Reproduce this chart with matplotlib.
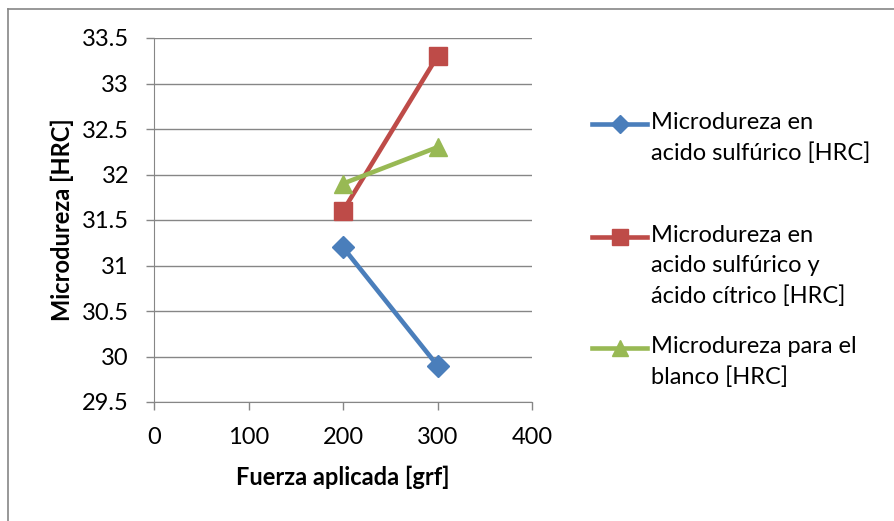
import matplotlib.pyplot as plt
from matplotlib.lines import Line2D

plt.rcParams['font.family'] = ['Lato', 'DejaVu Sans']

fuerza = [200, 300]
sulfurico = [31.2, 29.9]
sulfurico_citrico = [31.6, 33.3]
blanco = [31.9, 32.3]

labels = ['Microdureza en\nacido sulfúrico [HRC]',
          'Microdureza en\nacido sulfúrico y\nácido cítrico [HRC]',
          'Microdureza para el\nblanco [HRC]']
colors = ['#4A7EBB', '#BE4B48', '#98B954']
markers = ['D', 's', '^']
msizes = [11, 13, 13]

FS = 17
W, H = 894, 521
fig = plt.figure(figsize=(W / 100, H / 100), dpi=100)
ax = fig.add_axes([154 / W, 1 - 402 / H, (532 - 154) / W, (402 - 38) / H])

for y, c, m, ms in zip([sulfurico, sulfurico_citrico, blanco], colors, markers, msizes):
    ax.plot(fuerza, y, color=c, lw=3.3, marker=m, ms=ms, mec=c, mfc=c)

ax.set_xlim(0, 400)
ax.set_ylim(29.5, 33.5)
ax.set_xticks(range(0, 401, 100))
ax.set_yticks([29.5 + 0.5 * i for i in range(9)])
ax.set_yticklabels(['29.5', '30', '30.5', '31', '31.5', '32', '32.5', '33', '33.5'])
ax.yaxis.grid(True, color='#868686', lw=1)
ax.set_axisbelow(True)
for s in ['top', 'right']:
    ax.spines[s].set_visible(False)
for s in ['left', 'bottom']:
    ax.spines[s].set_color('#868686')
ax.tick_params(colors='#868686', labelcolor='black', labelsize=FS, length=6, width=1)
ax.tick_params(axis='y', pad=12)
ax.tick_params(axis='x', pad=12)

ax.set_xlabel('Fuerza aplicada [grf]', fontsize=FS, fontweight='bold', labelpad=13)
ax.set_ylabel('Microdureza [HRC]', fontsize=FS, fontweight='bold', labelpad=6)

# legend drawn by hand so entries sit where the spacing needs them
first_rows = [124, 237, 348]
for lab, c, m, ms, yy in zip(labels, colors, markers, msizes, first_rows):
    yf = 1 - yy / H
    fig.add_artist(Line2D([592 / W, 647 / W], [yf, yf], color=c, lw=3.3,
                          transform=fig.transFigure))
    fig.add_artist(Line2D([620 / W], [yf], marker=m, ms=ms * 0.85, color=c,
                          transform=fig.transFigure))
    fig.text(651 / W, yf + 12 / H, lab, fontsize=FS, va='top', ha='left',
             linespacing=1.52)

# outer frame (only top and left edges fall inside the image)
fig.add_artist(Line2D([8 / W, 1], [1 - 9 / H, 1 - 9 / H], color='#868686', lw=1.2,
                      transform=fig.transFigure))
fig.add_artist(Line2D([8 / W, 8 / W], [0, 1 - 9 / H], color='#868686', lw=1.2,
                      transform=fig.transFigure))

fig.savefig('out.png', dpi=100)
